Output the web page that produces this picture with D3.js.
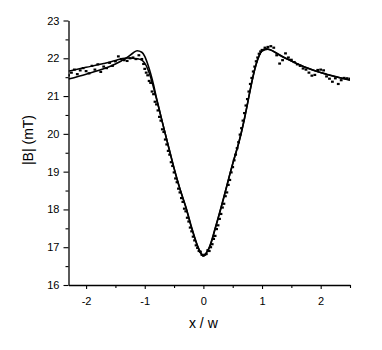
<!DOCTYPE html>
<html>
<head>
<meta charset="utf-8">
<script src="https://cdn.jsdelivr.net/npm/d3@7"></script>
<style>
  body { margin: 0; background: #fff; }
  svg { display: block; }
  text { font-family: "Liberation Sans", Arial, sans-serif; fill: #000; }
</style>
</head>
<body>
<svg id="plot"></svg>
<script>
// fit curve (with overshoot at the left shoulder)
const fitA = [
  [-2.3, 21.45], [-2.0, 21.58], [-1.7, 21.72], [-1.5, 21.85], [-1.4, 21.93],
  [-1.3, 22.02], [-1.2, 22.14], [-1.13, 22.2], [-1.05, 22.16], [-1.0, 22.05],
  [-0.95, 21.85], [-0.9, 21.6], [-0.85, 21.3], [-0.8, 20.95], [-0.75, 20.63],
  [-0.7, 20.31], [-0.65, 20.0], [-0.6, 19.69], [-0.55, 19.38], [-0.5, 19.08],
  [-0.45, 18.8], [-0.4, 18.54], [-0.35, 18.3], [-0.3, 18.07], [-0.25, 17.8],
  [-0.2, 17.52], [-0.15, 17.27], [-0.1, 17.04], [-0.05, 16.85], [0, 16.77],
  [0.05, 16.85], [0.1, 16.98], [0.15, 17.2], [0.2, 17.48], [0.25, 17.75],
  [0.3, 18.03], [0.35, 18.32], [0.4, 18.62], [0.45, 18.92], [0.5, 19.2],
  [0.55, 19.47], [0.6, 19.74], [0.65, 20.05], [0.7, 20.4], [0.75, 20.78],
  [0.8, 21.18], [0.85, 21.55], [0.9, 21.85], [0.95, 22.07], [1.0, 22.2],
  [1.07, 22.25], [1.15, 22.22], [1.3, 22.08], [1.5, 21.93], [1.7, 21.78],
  [1.9, 21.67], [2.1, 21.58], [2.3, 21.5], [2.5, 21.42]
];

// second curve (flatter left shoulder)
const fitB = [
  [-2.3, 21.66], [-2.0, 21.76], [-1.7, 21.86], [-1.5, 21.94], [-1.4, 21.99],
  [-1.3, 22.01], [-1.2, 22.0], [-1.1, 21.98], [-1.05, 21.95], [-1.0, 21.87],
  [-0.95, 21.72], [-0.9, 21.5], [-0.85, 21.22], [-0.8, 20.93], [-0.75, 20.62],
  [-0.7, 20.31], [-0.6, 19.7], [-0.5, 19.1], [-0.4, 18.55], [-0.3, 18.06],
  [-0.2, 17.5], [-0.1, 17.03], [0, 16.78], [0.1, 17.0], [0.2, 17.5],
  [0.3, 18.05], [0.4, 18.63], [0.5, 19.22], [0.6, 19.75], [0.7, 20.4],
  [0.8, 21.17], [0.9, 21.84], [1.0, 22.19], [1.1, 22.24], [1.2, 22.18],
  [1.4, 22.0], [1.6, 21.86], [1.8, 21.73], [2.0, 21.62], [2.2, 21.53],
  [2.5, 21.43]
];

// measured points
const dots = [
  [-2.30, 21.55], [-2.25, 21.62], [-2.20, 21.70], [-2.15, 21.58], [-2.10, 21.68],
  [-2.05, 21.74], [-2.00, 21.66], [-1.95, 21.60], [-1.90, 21.80], [-1.85, 21.70],
  [-1.80, 21.84], [-1.75, 21.64], [-1.70, 21.78], [-1.65, 21.74], [-1.60, 21.88],
  [-1.55, 21.80], [-1.50, 21.92], [-1.45, 22.05], [-1.40, 21.98], [-1.35, 21.95],
  [-1.30, 21.93], [-1.25, 22.00], [-1.20, 22.02], [-1.15, 21.98], [-1.10, 22.08],
  [-1.05, 21.98], [-1.02, 21.85],
  [-1.000, 21.72], [-0.975, 21.62], [-0.950, 21.55], [-0.925, 21.40], [-0.900, 21.35],
  [-0.875, 21.12], [-0.850, 21.05], [-0.825, 20.85], [-0.800, 20.78], [-0.775, 20.62],
  [-0.750, 20.45], [-0.725, 20.35], [-0.700, 20.12], [-0.675, 20.05], [-0.650, 19.85],
  [-0.625, 19.72], [-0.600, 19.55], [-0.575, 19.45], [-0.550, 19.25], [-0.525, 19.15],
  [-0.500, 18.98], [-0.475, 18.82], [-0.450, 18.72], [-0.425, 18.55], [-0.400, 18.45],
  [-0.375, 18.30], [-0.350, 18.20], [-0.325, 18.02], [-0.300, 17.95], [-0.275, 17.78],
  [-0.250, 17.68], [-0.225, 17.52], [-0.200, 17.42], [-0.175, 17.28], [-0.150, 17.18],
  [-0.125, 17.05], [-0.100, 16.98], [-0.075, 16.90], [-0.050, 16.88], [-0.025, 16.80],
  [0.000, 16.78], [0.025, 16.80], [0.050, 16.82], [0.075, 16.92], [0.100, 16.90],
  [0.125, 17.00], [0.150, 17.08], [0.175, 17.22], [0.200, 17.30], [0.225, 17.48],
  [0.250, 17.58], [0.275, 17.75], [0.300, 17.88], [0.325, 18.05], [0.350, 18.15],
  [0.375, 18.35], [0.400, 18.45], [0.425, 18.65], [0.450, 18.78], [0.475, 18.98],
  [0.500, 19.12], [0.525, 19.30], [0.550, 19.45], [0.575, 19.62], [0.600, 19.78],
  [0.625, 19.98], [0.650, 20.15], [0.675, 20.35], [0.700, 20.55], [0.725, 20.75],
  [0.750, 20.92], [0.775, 21.12], [0.800, 21.32], [0.825, 21.48], [0.850, 21.65],
  [0.875, 21.78], [0.900, 21.92], [0.925, 22.02], [0.950, 22.12], [0.975, 22.18],
  [1.000, 22.22],
  [1.05, 22.28], [1.10, 22.30], [1.15, 22.32], [1.20, 22.28], [1.25, 22.08],
  [1.30, 21.86], [1.35, 21.95], [1.40, 22.13], [1.45, 22.02], [1.50, 21.96],
  [1.55, 21.90], [1.60, 21.84], [1.65, 21.80], [1.70, 21.73], [1.75, 21.70],
  [1.80, 21.62], [1.85, 21.54], [1.90, 21.56], [1.95, 21.69], [2.00, 21.70],
  [2.05, 21.68], [2.10, 21.52], [2.15, 21.46], [2.20, 21.38], [2.25, 21.47],
  [2.30, 21.32], [2.35, 21.42], [2.40, 21.48], [2.45, 21.47], [2.50, 21.46]
];

const xMajor = [-2, -1, 0, 1, 2];
const xMinor = [-1.5, -0.5, 0.5, 1.5, 2.5];
const yMajor = [16, 17, 18, 19, 20, 21, 22, 23];
const yMinor = [16.5, 17.5, 18.5, 19.5, 20.5, 21.5, 22.5];

const width = 382, height = 350;
const margin = {left: 68.5, right: 32, top: 20.5, bottom: 65};

const svg = d3.select("#plot")
  .attr("width", width)
  .attr("height", height);

const x = d3.scaleLinear()
  .domain([-2.3, 2.5])
  .range([margin.left, width - margin.right]);

const y = d3.scaleLinear()
  .domain([16, 23])
  .range([height - margin.bottom, margin.top]);

// clip the curves to the plot area
svg.append("clipPath").attr("id", "clip")
  .append("rect")
  .attr("x", margin.left)
  .attr("y", margin.top - 5)
  .attr("width", x(2.5) - margin.left)
  .attr("height", y(16) - margin.top + 5);

const plot = svg.append("g").attr("clip-path", "url(#clip)");

const line = d3.line()
  .x(d => x(d[0]))
  .y(d => y(d[1]))
  .curve(d3.curveMonotoneX);

plot.append("path")
  .datum(fitB)
  .attr("d", line)
  .attr("fill", "none")
  .attr("stroke", "#000")
  .attr("stroke-width", 1.5);

plot.append("path")
  .datum(fitA)
  .attr("d", line)
  .attr("fill", "none")
  .attr("stroke", "#000")
  .attr("stroke-width", 1.6);

plot.append("g")
  .selectAll("rect")
  .data(dots)
  .join("rect")
  .attr("x", d => x(d[0]) - 1.4)
  .attr("y", d => y(d[1]) - 1.1)
  .attr("width", 2.8)
  .attr("height", 2.2)
  .attr("fill", "#000");

// axes, plain hyphen minus and integer labels
const fmt = d => String(d);
const axisY = d3.axisLeft(y).tickValues(yMajor).tickSize(5).tickSizeOuter(0).tickPadding(4).tickFormat(fmt);
const axisYMinor = d3.axisLeft(y).tickValues(yMinor).tickSize(3).tickSizeOuter(0).tickFormat("");
const axisX = d3.axisBottom(x).tickValues(xMajor).tickSize(4).tickSizeOuter(0).tickPadding(8).tickFormat(fmt);
const axisXMinor = d3.axisBottom(x).tickValues(xMinor).tickSize(3).tickSizeOuter(0).tickFormat("");

svg.append("g")
  .attr("transform", `translate(${margin.left},0)`)
  .call(axisY);
svg.append("g")
  .attr("transform", `translate(${margin.left},0)`)
  .call(axisYMinor)
  .call(g => g.select(".domain").remove());

svg.append("g")
  .attr("transform", `translate(0,${height - margin.bottom})`)
  .call(axisX);
svg.append("g")
  .attr("transform", `translate(0,${height - margin.bottom})`)
  .call(axisXMinor)
  .call(g => g.select(".domain").remove());

svg.selectAll(".domain").attr("stroke", "#000").attr("stroke-width", 1.3);
svg.selectAll(".tick line").attr("stroke", "#000").attr("stroke-width", 1.1);
svg.selectAll(".tick text")
  .attr("font-size", 11)
  .attr("font-family", "'Liberation Sans', Arial, sans-serif")
  .attr("fill", "#000");

// axis titles
svg.append("text")
  .attr("x", x(0))
  .attr("y", 328)
  .attr("text-anchor", "middle")
  .attr("font-size", 14)
  .text("x / w");

svg.append("text")
  .attr("transform", "translate(33,140) rotate(-90)")
  .attr("text-anchor", "middle")
  .attr("font-size", 14)
  .text("|B| (mT)");
</script>
</body>
</html>
